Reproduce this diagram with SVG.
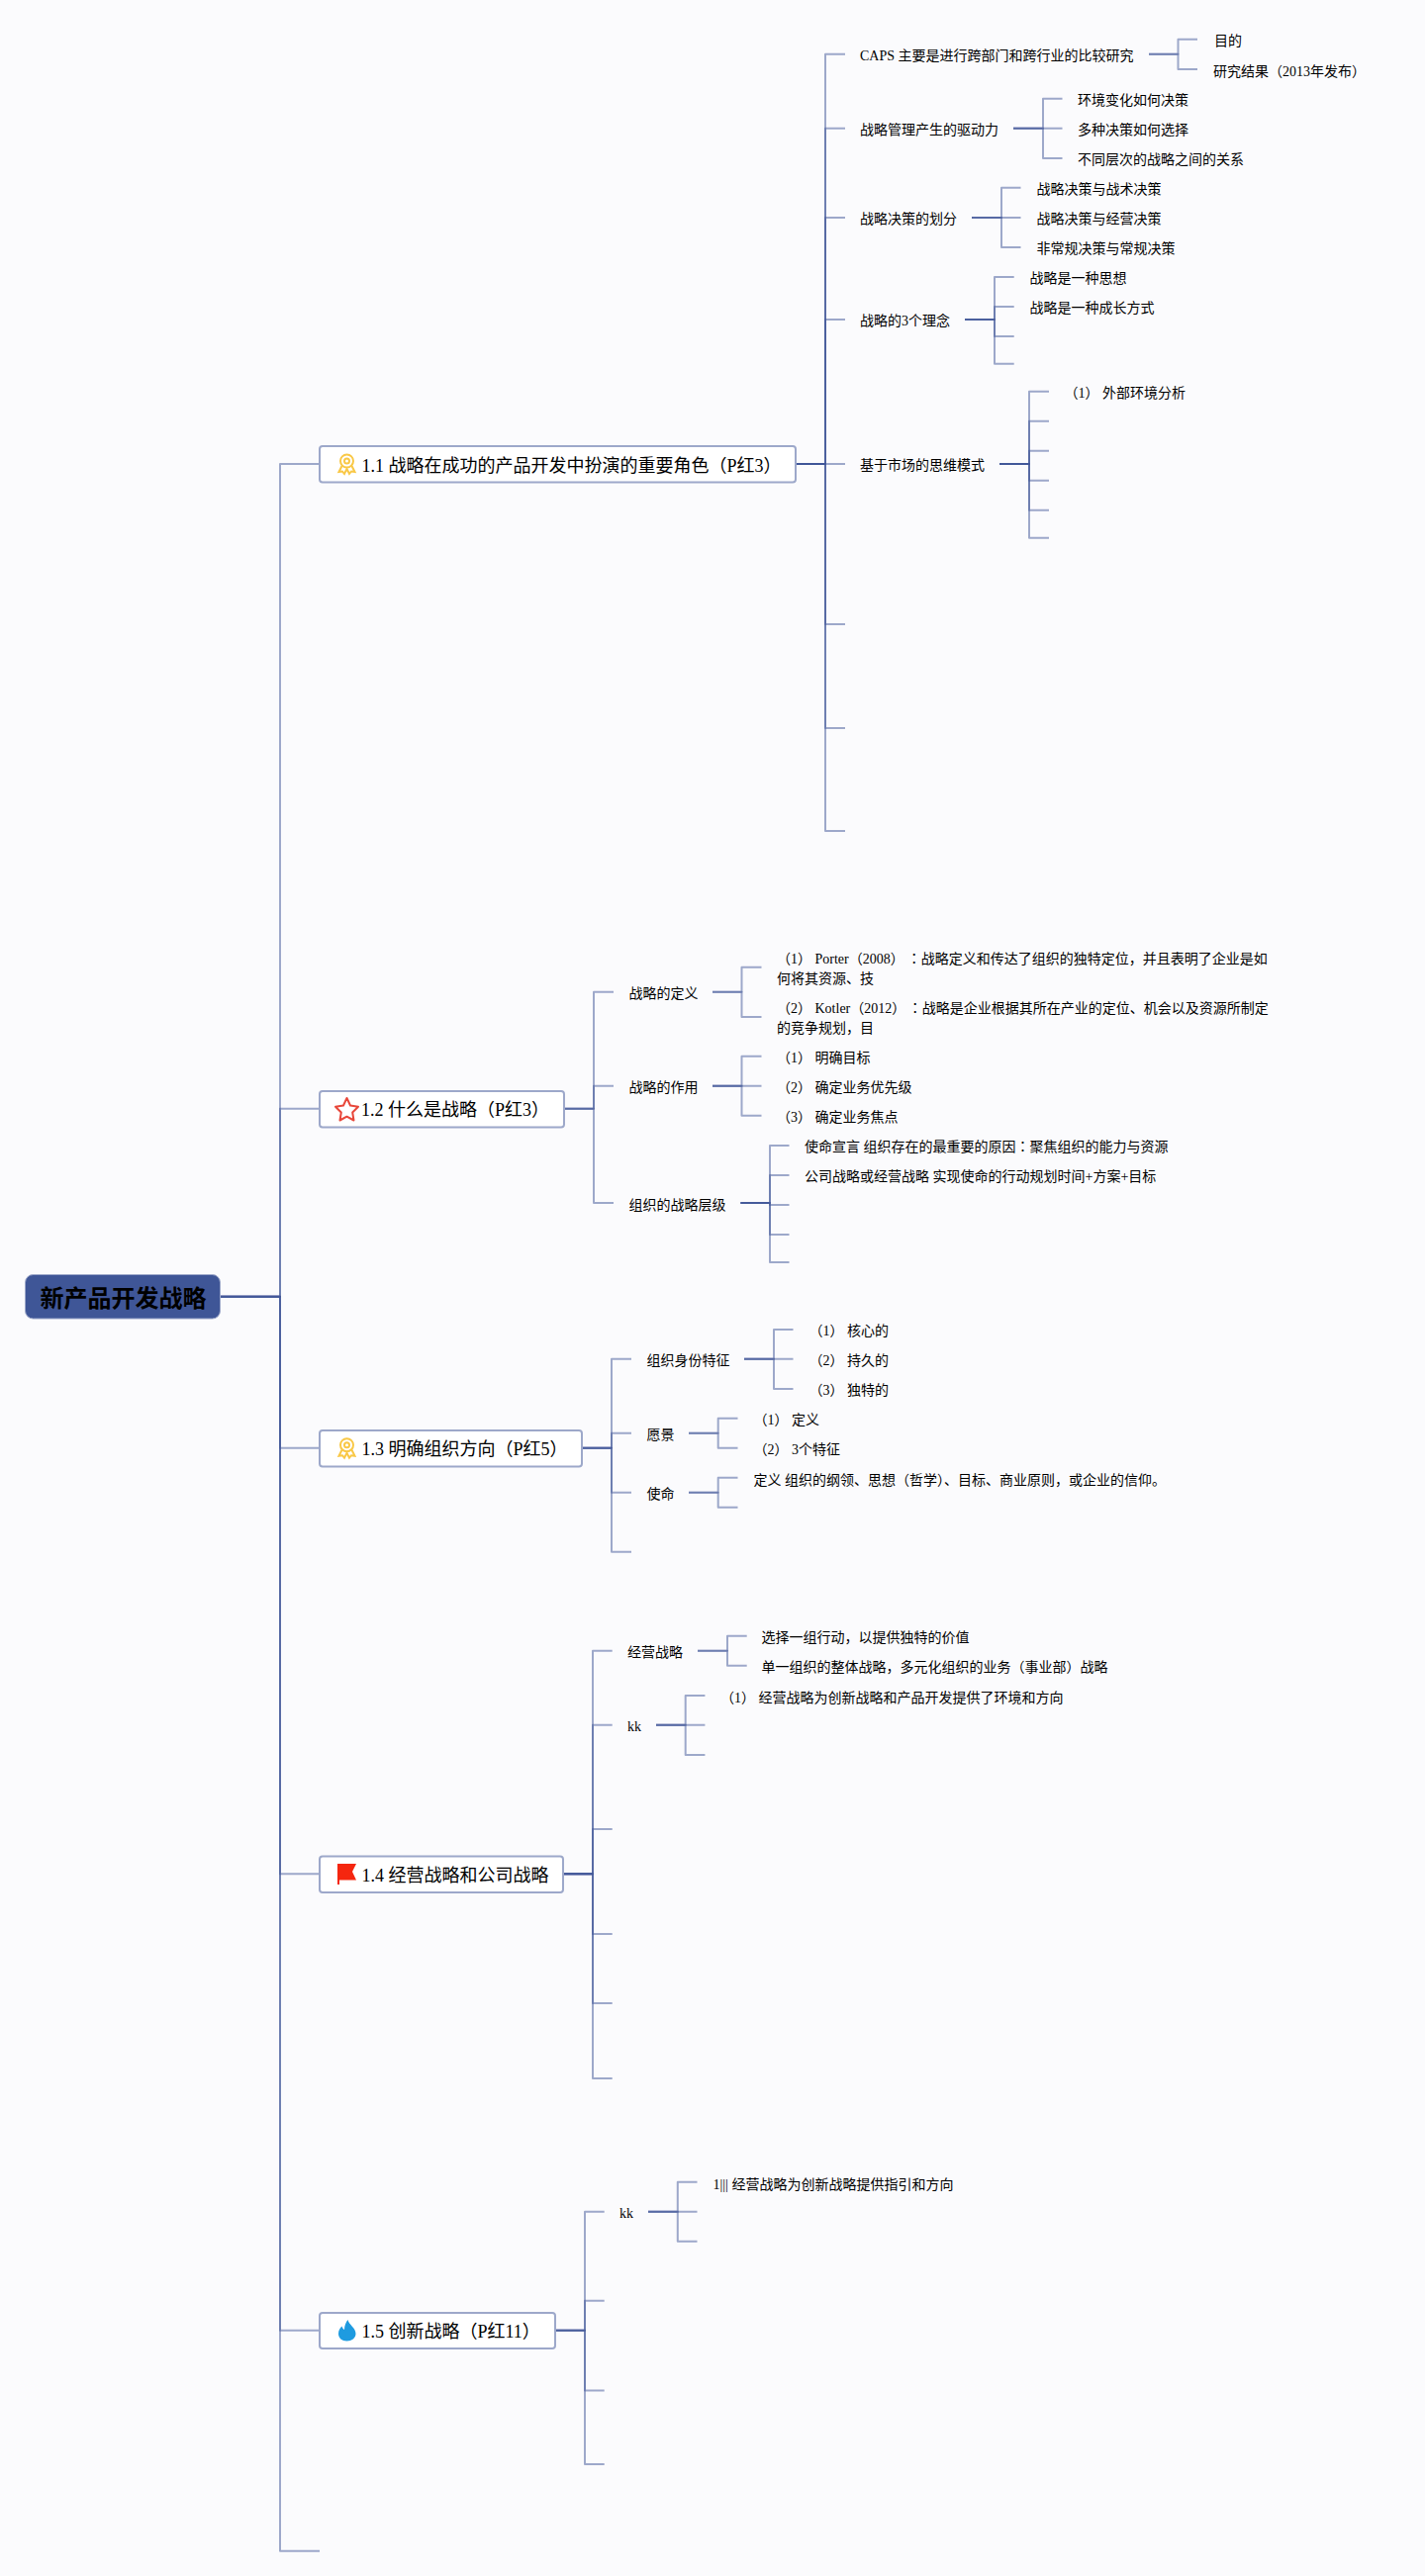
<svg xmlns="http://www.w3.org/2000/svg" width="1440" height="2604" viewBox="0 0 1440 2604">
<style>
text{font-family:"Liberation Serif","Noto Sans CJK SC",serif;fill:#000;white-space:pre}
.s{font-size:14px}
.t{font-size:18px}
.r{font-size:24px;font-weight:bold;fill:#000}
.j{font-family:"Liberation Serif","Noto Sans CJK JP",serif}
.c{fill:none;stroke:#3f5697;stroke-opacity:.5;stroke-width:2;stroke-linejoin:round}
.box{fill:#fff;stroke:#9da8ca;stroke-width:2}
</style>
<defs>
<g id="medal" fill="none" stroke="#f9c846" stroke-width="2">
<circle cx="0" cy="-3" r="6.5"/>
<circle cx="0" cy="-3" r="2.5"/>
<path d="M-5 2L-8 8L-4.500 7.500L-2.500 10L0 5L2.500 10L4.500 7.500L8 8L5 2"/>
</g>
</defs>
<rect width="1440" height="2604" fill="#fbfbfd"/>
<g id="connectors">
<path class="c" d="M222 1310.700H283V469H323"/>
<path class="c" d="M222 1310.700H283V1120.700H323"/>
<path class="c" d="M222 1310.700H283V1463.700H323"/>
<path class="c" d="M222 1310.700H283V1894.300H323"/>
<path class="c" d="M222 1310.700H283V2355.700H323"/>
<path class="c" d="M222 1310.700H283V2578.700H323"/>

<path class="c" d="M804 469H834V54.700H854"/>
<path class="c" d="M804 469H834V129.700H854"/>
<path class="c" d="M804 469H834V220H854"/>
<path class="c" d="M804 469H834V323H854"/>
<path class="c" d="M804 469H854"/>
<path class="c" d="M804 469H834V631H854"/>
<path class="c" d="M804 469H834V736H854"/>
<path class="c" d="M804 469H834V840H854"/>

<path class="c" d="M1161 54.700H1190.500V39.700H1210"/>
<path class="c" d="M1161 54.700H1190.500V70H1210"/>
<path class="c" d="M1024 129.700H1054V99.700H1073.500"/>
<path class="c" d="M1024 129.700H1073.500"/>
<path class="c" d="M1024 129.700H1054V160H1073.500"/>
<path class="c" d="M982 220H1012V189.700H1031.500"/>
<path class="c" d="M982 220H1031.500"/>
<path class="c" d="M982 220H1012V250H1031.500"/>
<path class="c" d="M975 323H1005V280H1024.700"/>
<path class="c" d="M975 323H1005V310H1024.700"/>
<path class="c" d="M975 323H1005V340H1024.700"/>
<path class="c" d="M975 323H1005V367.700H1024.700"/>
<path class="c" d="M1010 469H1040V395.700H1060"/>
<path class="c" d="M1010 469H1040V425.700H1060"/>
<path class="c" d="M1010 469H1040V455.700H1060"/>
<path class="c" d="M1010 469H1040V485.700H1060"/>
<path class="c" d="M1010 469H1040V515.700H1060"/>
<path class="c" d="M1010 469H1040V543.700H1060"/>

<path class="c" d="M570 1120.700H600V1002.700H620"/>
<path class="c" d="M570 1120.700H600V1097.700H620"/>
<path class="c" d="M570 1120.700H600V1216H620"/>
<path class="c" d="M720 1002.700H749.500V977.700H769.500"/>
<path class="c" d="M720 1002.700H749.500V1028H769.500"/>
<path class="c" d="M720 1097.700H749.500V1067.700H769.500"/>
<path class="c" d="M720 1097.700H769.500"/>
<path class="c" d="M720 1097.700H749.500V1127.700H769.500"/>
<path class="c" d="M748.500 1216H778V1158H797.500"/>
<path class="c" d="M748.500 1216H778V1188H797.500"/>
<path class="c" d="M748.500 1216H778V1218H797.500"/>
<path class="c" d="M748.500 1216H778V1248H797.500"/>
<path class="c" d="M748.500 1216H778V1276H797.500"/>

<path class="c" d="M588 1463.700H618V1373.700H638"/>
<path class="c" d="M588 1463.700H618V1448.700H638"/>
<path class="c" d="M588 1463.700H618V1508.700H638"/>
<path class="c" d="M588 1463.700H618V1568.700H638"/>
<path class="c" d="M752 1373.700H782V1344H801.500"/>
<path class="c" d="M752 1373.700H801.500"/>
<path class="c" d="M752 1373.700H782V1404H801.500"/>
<path class="c" d="M696 1448.700H725.700V1433.700H745.500"/>
<path class="c" d="M696 1448.700H725.700V1463.700H745.500"/>
<path class="c" d="M696 1508.700H725.700V1493.700H745.500"/>
<path class="c" d="M696 1508.700H725.700V1523.700H745.500"/>

<path class="c" d="M569 1894.300H599V1668.700H618.700"/>
<path class="c" d="M569 1894.300H599V1743.700H618.700"/>
<path class="c" d="M569 1894.300H599V1849H618.700"/>
<path class="c" d="M569 1894.300H599V1955H618.700"/>
<path class="c" d="M569 1894.300H599V2025H618.700"/>
<path class="c" d="M569 1894.300H599V2101H618.700"/>
<path class="c" d="M705 1668.700H735V1653.700H754.700"/>
<path class="c" d="M705 1668.700H735V1683.700H754.700"/>
<path class="c" d="M663 1743.700H692.700V1714H712.400"/>
<path class="c" d="M663 1743.700H712.400"/>
<path class="c" d="M663 1743.700H692.700V1774H712.400"/>

<path class="c" d="M561 2355.700H591V2235.700H610.700"/>
<path class="c" d="M561 2355.700H591V2325.700H610.700"/>
<path class="c" d="M561 2355.700H591V2416.500H610.700"/>
<path class="c" d="M561 2355.700H591V2491H610.700"/>
<path class="c" d="M655 2235.700H684.800V2205.700H704.500"/>
<path class="c" d="M655 2235.700H704.500"/>
<path class="c" d="M655 2235.700H684.800V2265.700H704.500"/>
</g>

<g id="root"><rect x="25.500" y="1288.500" width="197" height="44.500" rx="8" fill="#3f5697" stroke="#9da8ca"/><text class="r" x="40.500" y="1320.500">新产品开发战略</text></g>

<g id="topic-1-1"><rect class="box" x="323" y="451" width="481" height="36.500" rx="3"/><use href="#medal" x="350.500" y="469"/><text class="t" x="365.500" y="476.500">1.1 战略在成功的产品开发中扮演的重要角色（P红3）</text></g>
<g id="topic-1-2"><rect class="box" x="323" y="1103" width="247" height="36.500" rx="3"/><path d="M350.500 1110L354 1117.500L362 1118.700L356.200 1124.500L357.500 1132.500L350.500 1128.700L343.500 1132.500L344.800 1124.500L339 1118.700L347 1117.500Z" fill="none" stroke="#e8473a" stroke-width="2" stroke-linejoin="round"/><text class="t" x="365" y="1128.200">1.2 什么是战略（P红3）</text></g>
<g id="topic-1-3"><rect class="box" x="323" y="1446" width="265" height="36.500" rx="3"/><use href="#medal" x="350.500" y="1463.700"/><text class="t" x="365.500" y="1471.200">1.3 明确组织方向（P红5）</text></g>
<g id="topic-1-4"><rect class="box" x="323" y="1876.500" width="246" height="36.500" rx="3"/><path d="M341 1884H360L356 1892L360 1900.500H343V1905H341Z" fill="#f5260f"/><text class="t" x="365.500" y="1901.800">1.4 经营战略和公司战略</text></g>
<g id="topic-1-5"><rect class="box" x="323" y="2338" width="238" height="36" rx="3"/><path d="M351.500 2345C352.500 2350 359.500 2353 359.500 2359C359.500 2363.500 355.500 2366.500 350.500 2366.500C345.500 2366.500 342 2363.500 342 2359C342 2355.500 344 2353 345.500 2351.500C346 2353.500 347 2354.500 348 2355C348 2351 349.500 2347.500 351.500 2345Z" fill="#1e9be0"/><text class="t" x="365.500" y="2363.200">1.5 创新战略（P红11）</text></g>

<g id="branch-1-1">
<text class="s" x="869" y="61">CAPS 主要是进行跨部门和跨行业的比较研究</text>
<text class="s" x="1227" y="46">目的</text>
<text class="s" x="1226" y="76.500">研究结果（2013年发布）</text>
<text class="s" x="869" y="136">战略管理产生的驱动力</text>
<text class="s" x="1089" y="106">环境变化如何决策</text>
<text class="s" x="1089" y="136">多种决策如何选择</text>
<text class="s" x="1089" y="166">不同层次的战略之间的关系</text>
<text class="s" x="869" y="226">战略决策的划分</text>
<text class="s" x="1047.500" y="196">战略决策与战术决策</text>
<text class="s" x="1047.500" y="226">战略决策与经营决策</text>
<text class="s" x="1047.500" y="256">非常规决策与常规决策</text>
<text class="s" x="869" y="329">战略的3个理念</text>
<text class="s" x="1040.500" y="286">战略是一种思想</text>
<text class="s" x="1040.500" y="316">战略是一种成长方式</text>
<text class="s" x="869" y="475">基于市场的思维模式</text>
<text class="s" x="1075.500" y="402">（1） 外部环境分析</text>
</g>
<g id="branch-1-2">
<text class="s" x="635.500" y="1009">战略的定义</text>
<text class="s" x="785" y="974">（1） Porter（2008）<tspan class="j" dx="10">：</tspan>战略定义和传达了组织的独特定位，并且表明了企业是如</text>
<text class="s" x="785" y="994">何将其资源、技</text>
<text class="s" x="785" y="1024">（2） Kotler（2012）<tspan class="j" dx="9.500">：</tspan>战略是企业根据其所在产业的定位、机会以及资源所制定</text>
<text class="s" x="785" y="1044">的竞争规划，目</text>
<text class="s" x="635.500" y="1104">战略的作用</text>
<text class="s" x="785" y="1074">（1） 明确目标</text>
<text class="s" x="785" y="1104">（2） 确定业务优先级</text>
<text class="s" x="785" y="1134">（3） 确定业务焦点</text>
<text class="s" x="635.500" y="1222.500">组织的战略层级</text>
<text class="s" x="813" y="1164">使命宣言 组织存在的最重要的原因<tspan class="j">：</tspan>聚焦组织的能力与资源</text>
<text class="s" x="813" y="1194">公司战略或经营战略 实现使命的行动规划时间+方案+目标</text>
</g>
<g id="branch-1-3">
<text class="s" x="653.500" y="1380">组织身份特征</text>
<text class="s" x="817.500" y="1350">（1） 核心的</text>
<text class="s" x="817.500" y="1380">（2） 持久的</text>
<text class="s" x="817.500" y="1410">（3） 独特的</text>
<text class="s" x="653.500" y="1455">愿景</text>
<text class="s" x="761.500" y="1440">（1） 定义</text>
<text class="s" x="761.500" y="1470">（2） 3个特征</text>
<text class="s" x="653.500" y="1515">使命</text>
<text class="s" x="761.500" y="1500.500">定义 组织的纲领、思想（哲学）、目标、商业原则，或企业的信仰。</text>
</g>
<g id="branch-1-4">
<text class="s" x="634" y="1675">经营战略</text>
<text class="s" x="769.500" y="1660">选择一组行动，以提供独特的价值</text>
<text class="s" x="769.500" y="1690">单一组织的整体战略，多元化组织的业务（事业部）战略</text>
<text class="s" x="634" y="1750">kk</text>
<text class="s" x="728" y="1720.500">（1） 经营战略为创新战略和产品开发提供了环境和方向</text>
</g>
<g id="branch-1-5">
<text class="s" x="626" y="2242">kk</text>
<text class="s" x="720.500" y="2212.500">1||| 经营战略为创新战略提供指引和方向</text>
</g>
</svg>
